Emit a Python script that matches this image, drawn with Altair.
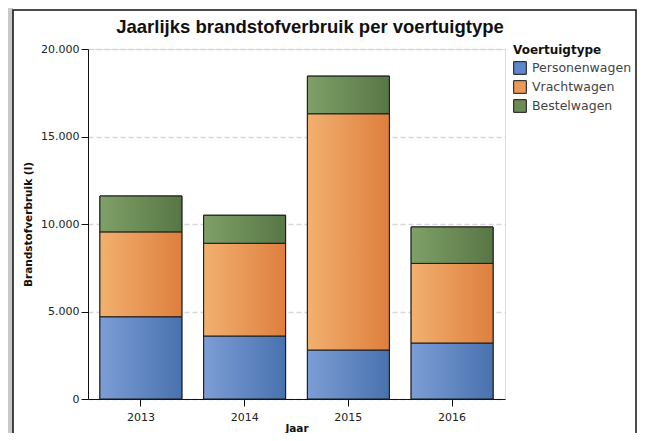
import altair as alt
import pandas as pd

# ---- data ----
years = ["2013", "2014", "2015", "2016"]
types = ["Personenwagen", "Vrachtwagen", "Bestelwagen"]
personenwagen = [4700, 3600, 2800, 3200]
vrachtwagen = [4850, 5300, 13500, 4550]
bestelwagen = [2050, 1600, 2150, 2080]
y_ticks = [0, 5000, 10000, 15000, 20000]
chart_title = "Jaarlijks brandstofverbruik per voertuigtype"

legend_colors = ["#5f87cb", "#eb9a58", "#6b8c55"]
grad_stops = {
    "Personenwagen": ("#7d9dd6", "#4872ae"),
    "Vrachtwagen": ("#f2b06f", "#de7f3e"),
    "Bestelwagen": ("#80a068", "#577645"),
}

series = {"Personenwagen": personenwagen, "Vrachtwagen": vrachtwagen, "Bestelwagen": bestelwagen}
rows = []
for ti, t in enumerate(types):
    for yi, yr in enumerate(years):
        rows.append({"Jaar": yr, "Voertuigtype": t, "Verbruik": series[t][yi], "Volgorde": ti})
df = pd.DataFrame(rows)

SMALL = "DejaVu Sans"
W, H = 417, 350

base = alt.Chart(df).transform_stack(
    stack="Verbruik", groupby=["Jaar"],
    sort=[alt.SortField("Volgorde", order="ascending")],
    as_=["y0", "y1"],
)

x_enc = alt.X("Jaar:N", sort=years,
              scale=alt.Scale(paddingInner=0.21, paddingOuter=0.115),
              axis=alt.Axis(title="Jaar", labelAngle=0, domainColor="#111", tickColor="#111",
                            tickSize=7, labelPadding=5, titlePadding=1,
                            labelFont=SMALL, labelFontSize=11, labelColor="#222",
                            titleFont=SMALL, titleFontSize=10.5, titleFontWeight="bold",
                            titleColor="#111", grid=False))
y_enc = alt.Y("y1:Q", scale=alt.Scale(domain=[0, 20000], nice=False),
              axis=alt.Axis(title="Brandstofverbruik (l)", values=y_ticks,
                            labelExpr="replace(format(datum.value, ','), ',', '.')",
                            domainColor="#111", tickColor="#111", tickSize=7, labelPadding=2,
                            labelFont=SMALL, labelFontSize=11, labelColor="#222",
                            titleFont=SMALL, titleFontSize=10.5, titleFontWeight="bold",
                            titleColor="#111", titlePadding=7,
                            grid=True, gridColor="#d6d6d6", gridDash=[5, 3], gridWidth=1.5))

bars = base.mark_bar(stroke="#1a1a1a", strokeWidth=1).encode(
    x=x_enc, y=y_enc, y2="y0:Q",
    color=alt.Color("Voertuigtype:N", sort=types,
                    scale=alt.Scale(domain=types, range=legend_colors),
                    legend=alt.Legend(orient="none", legendX=425, legendY=-4,
                                      title="Voertuigtype", titleFont=SMALL, titleFontSize=12,
                                      titleFontWeight="bold", titleColor="#111", titlePadding=4,
                                      labelFont=SMALL, labelFontSize=12.5, labelColor="#444",
                                      symbolType="square", symbolSize=160, symbolStrokeColor="#111",
                                      symbolStrokeWidth=1, symbolOpacity=1, rowPadding=1,
                                      labelOffset=5)),
)

layers = [bars]
for t in types:
    c1, c2 = grad_stops[t]
    grad = alt.Gradient(gradient="linear",
                        stops=[alt.GradientStop(color=c1, offset=0), alt.GradientStop(color=c2, offset=1)],
                        x1=0, x2=1, y1=0, y2=0)
    layers.append(
        base.transform_filter(alt.datum.Voertuigtype == t)
        .mark_bar(fill=grad, stroke="#1a1a1a", strokeWidth=1)
        .encode(x=x_enc, y=y_enc, y2="y0:Q")
    )

frame_df = pd.DataFrame({"f": [0]})
shadow = alt.Chart(frame_df).mark_rect(fill="#c9c9c9").encode(
    x=alt.value(-80), x2=alt.value(-75), y=alt.value(-41), y2=alt.value(400))
frame = alt.Chart(frame_df).mark_rect(fillOpacity=0, stroke="#111", strokeWidth=1.5).encode(
    x=alt.value(-75), x2=alt.value(548), y=alt.value(-39), y2=alt.value(400))
title = alt.Chart(frame_df).mark_text(
    text=chart_title, font="Liberation Sans", fontSize=18.5, fontWeight="bold", color="#111",
    align="center", baseline="alphabetic").encode(x=alt.value(222), y=alt.value(-16))

chart = alt.layer(shadow, *layers, frame, title).properties(
    width=W, height=H,
    autosize=alt.AutoSizeParams(type="none"),
    padding={"left": 80, "top": 41, "right": 133, "bottom": 34},
).configure_view(strokeOpacity=0).configure(background="white")

chart.save("out.html", embed_options={"renderer": "svg", "actions": False})
